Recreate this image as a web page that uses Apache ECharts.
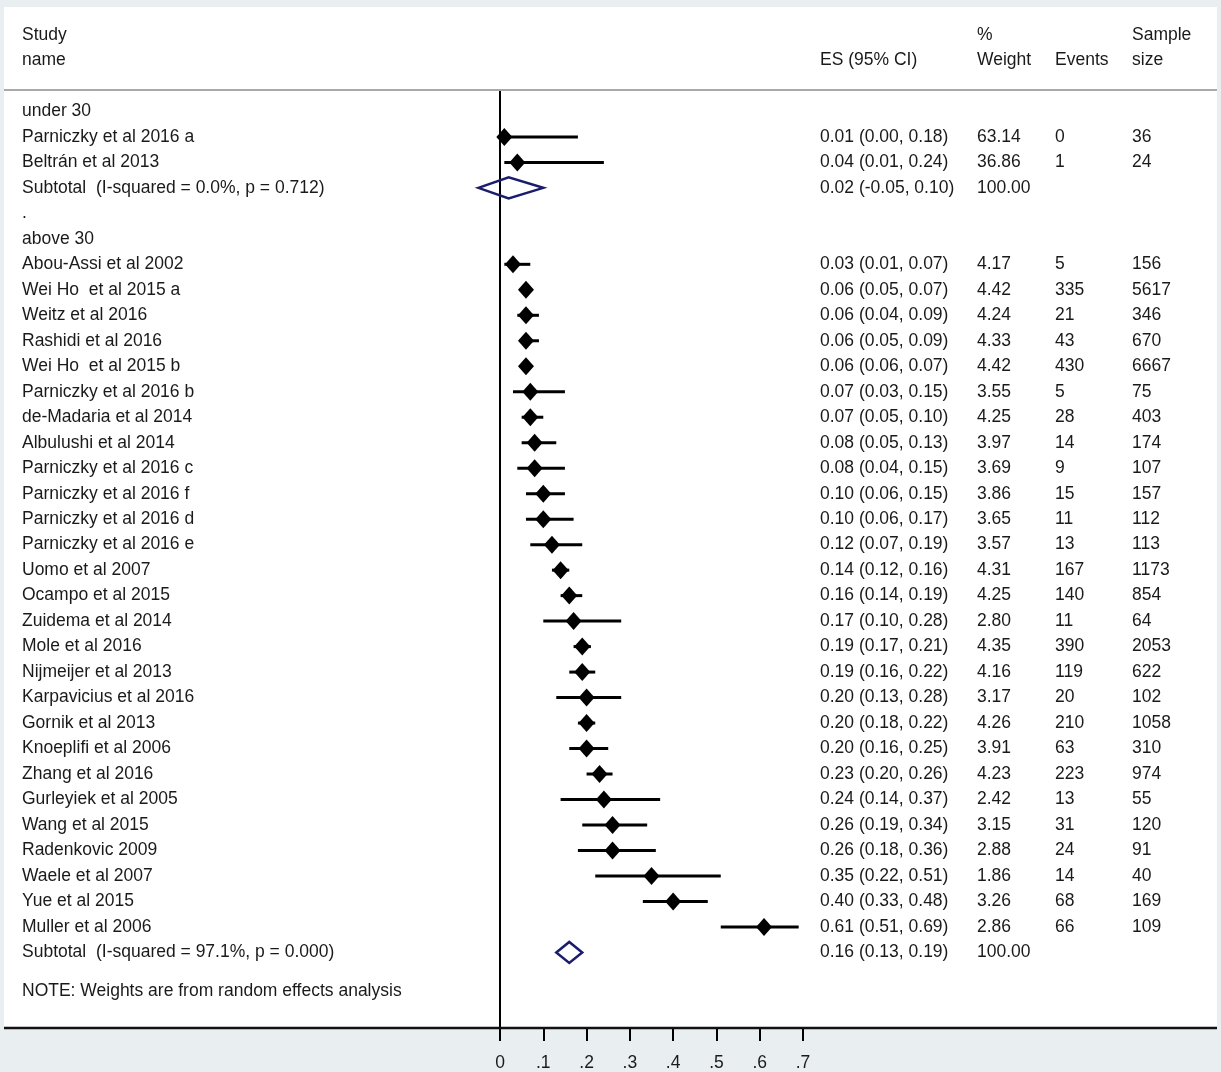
<!DOCTYPE html>
<html><head><meta charset="utf-8">
<script src="https://cdn.jsdelivr.net/npm/echarts@6/dist/echarts.min.js"></script>
<style>html,body{margin:0;padding:0;background:#e9eef0;} #c{width:1221px;height:1072px;}</style>
</head><body><div id="c"></div>
<script>
// ---- data ----
const rowLabels = [
  'under 30',
  'Parniczky et al 2016 a',
  'Beltrán et al 2013',
  'Subtotal  (I-squared = 0.0%, p = 0.712)',
  '.',
  'above 30',
  'Abou-Assi et al 2002',
  'Wei Ho  et al 2015 a',
  'Weitz et al 2016',
  'Rashidi et al 2016',
  'Wei Ho  et al 2015 b',
  'Parniczky et al 2016 b',
  'de-Madaria et al 2014',
  'Albulushi et al 2014',
  'Parniczky et al 2016 c',
  'Parniczky et al 2016 f',
  'Parniczky et al 2016 d',
  'Parniczky et al 2016 e',
  'Uomo et al 2007',
  'Ocampo et al 2015',
  'Zuidema et al 2014',
  'Mole et al 2016',
  'Nijmeijer et al 2013',
  'Karpavicius et al 2016',
  'Gornik et al 2013',
  'Knoeplifi et al 2006',
  'Zhang et al 2016',
  'Gurleyiek et al 2005',
  'Wang et al 2015',
  'Radenkovic 2009',
  'Waele et al 2007',
  'Yue et al 2015',
  'Muller et al 2006',
  'Subtotal  (I-squared = 97.1%, p = 0.000)'
];
const rowKinds = ['group','study','study','subtotal','blank','group',
  'study','study','study','study','study','study','study','study','study','study','study','study',
  'study','study','study','study','study','study','study','study','study','study','study','study',
  'study','study','study','subtotal'];
const esValues = [null,0.01,0.04,0.02,null,null,
  0.03,0.06,0.06,0.06,0.06,0.07,0.07,0.08,0.08,0.10,0.10,0.12,
  0.14,0.16,0.17,0.19,0.19,0.20,0.20,0.20,0.23,0.24,0.26,0.26,
  0.35,0.40,0.61,0.16];
const ciLow = [null,0.00,0.01,-0.05,null,null,
  0.01,0.05,0.04,0.05,0.06,0.03,0.05,0.05,0.04,0.06,0.06,0.07,
  0.12,0.14,0.10,0.17,0.16,0.13,0.18,0.16,0.20,0.14,0.19,0.18,
  0.22,0.33,0.51,0.13];
const ciHigh = [null,0.18,0.24,0.10,null,null,
  0.07,0.07,0.09,0.09,0.07,0.15,0.10,0.13,0.15,0.15,0.17,0.19,
  0.16,0.19,0.28,0.21,0.22,0.28,0.22,0.25,0.26,0.37,0.34,0.36,
  0.51,0.48,0.69,0.19];
const weights = [null,63.14,36.86,100.00,null,null,
  4.17,4.42,4.24,4.33,4.42,3.55,4.25,3.97,3.69,3.86,3.65,3.57,
  4.31,4.25,2.80,4.35,4.16,3.17,4.26,3.91,4.23,2.42,3.15,2.88,
  1.86,3.26,2.86,100.00];
const events = [null,0,1,null,null,null,
  5,335,21,43,430,5,28,14,9,15,11,13,
  167,140,11,390,119,20,210,63,223,13,31,24,
  14,68,66,null];
const sampleSizes = [null,36,24,null,null,null,
  156,5617,346,670,6667,75,403,174,107,157,112,113,
  1173,854,64,2053,622,102,1058,310,974,55,120,91,
  40,169,109,null];
const noteText = 'NOTE: Weights are from random effects analysis';
const xTickLabels = ['0','.1','.2','.3','.4','.5','.6','.7'];

// ---- build ----
const FONT = '"Liberation Sans", Arial, sans-serif';
const FS = 17.5;
const TXT = '#1a1a1a';
const NAVY = '#1c1c6e';

const studyData = [], subData = [], tableData = [];
rowKinds.forEach((k, i) => {
  if (k === 'study') studyData.push([esValues[i], i, ciLow[i], ciHigh[i]]);
  if (k === 'subtotal') subData.push([esValues[i], i, ciLow[i], ciHigh[i]]);
  tableData.push([0, i]);
});
const NOTE_ROW = 34.53;
tableData.push([0, NOTE_ROW]);

function rowTexts(i) {
  if (i >= rowLabels.length) return [noteText, '', '', '', ''];
  const k = rowKinds[i];
  let es = '', w = '', ev = '', n = '';
  if (k === 'study' || k === 'subtotal') {
    es = esValues[i].toFixed(2) + ' (' + ciLow[i].toFixed(2) + ', ' + ciHigh[i].toFixed(2) + ')';
    w = weights[i].toFixed(2);
  }
  if (k === 'study') { ev = String(events[i]); n = String(sampleSizes[i]); }
  return [rowLabels[i], es, w, ev, n];
}
const colX = [22, 820, 977, 1055, 1132];

const chart = echarts.init(document.getElementById('c'), null, {renderer: 'canvas'});
function txt(x, y, s) {
  return {type: 'text', x: x, y: y, z: 5,
    style: {text: s, font: FS + 'px ' + FONT, fill: TXT, textVerticalAlign: 'middle', verticalAlign: 'middle'}};
}
chart.setOption({
  animation: false,
  backgroundColor: '#e9eef0',
  grid: {left: 500, right: 418, top: 90, bottom: 44},
  xAxis: {
    type: 'value', min: 0, max: 0.7, interval: 0.1,
    axisLine: {show: false, onZero: false},
    axisTick: {show: true, length: 13, lineStyle: {color: '#000', width: 2}},
    axisLabel: {margin: 26, color: TXT, fontSize: FS, fontFamily: FONT,
      formatter: v => xTickLabels[Math.round(v * 10)]},
    splitLine: {show: false}
  },
  yAxis: {
    type: 'value', inverse: true, min: -0.84, max: 35.966,
    axisLine: {show: true, onZero: false, lineStyle: {color: '#000', width: 2}},
    axisTick: {show: false}, axisLabel: {show: false}, splitLine: {show: false}
  },
  graphic: [
    {type: 'rect', z: -10, silent: true, shape: {x: 4, y: 7, width: 1213, height: 1021}, style: {fill: '#ffffff'}},
    {type: 'line', z: 10, silent: true, shape: {x1: 4, y1: 90, x2: 1217, y2: 90}, style: {stroke: '#a9a9a9', lineWidth: 2}},
    {type: 'line', z: 10, silent: true, shape: {x1: 4, y1: 1028, x2: 1217, y2: 1028}, style: {stroke: '#111', lineWidth: 2.5}},
    txt(22, 35, 'Study'), txt(22, 60, 'name'),
    txt(820, 60, 'ES (95% CI)'),
    txt(977, 35, '%'), txt(977, 60, 'Weight'),
    txt(1055, 60, 'Events'),
    txt(1132, 35, 'Sample'), txt(1132, 60, 'size')
  ],
  series: [
    {
      type: 'custom', clip: false, z: 3,
      data: studyData,
      encode: {x: 0, y: 1},
      renderItem: (params, api) => {
        const row = api.value(1);
        const a = api.coord([api.value(2), row]);
        const b = api.coord([api.value(3), row]);
        return {type: 'line', shape: {x1: a[0], y1: a[1], x2: b[0], y2: b[1]},
          style: {stroke: '#000', lineWidth: 3}};
      }
    },
    {
      type: 'scatter', z: 4, data: studyData.map(d => [d[0], d[1]]),
      symbol: 'diamond', symbolSize: [16, 18],
      itemStyle: {color: '#000', opacity: 1}
    },
    {
      type: 'custom', clip: false, z: 4,
      data: subData,
      encode: {x: 0, y: 1},
      renderItem: (params, api) => {
        const row = api.value(1);
        const c = api.coord([api.value(0), row]);
        const l = api.coord([api.value(2), row]);
        const r = api.coord([api.value(3), row]);
        const h = 10.5;
        return {type: 'polygon',
          shape: {points: [[l[0], c[1]], [c[0], c[1] - h], [r[0], c[1]], [c[0], c[1] + h]]},
          style: {fill: 'none', stroke: NAVY, lineWidth: 2.5}};
      }
    },
    {
      type: 'custom', clip: false, z: 5,
      data: tableData,
      encode: {x: 0, y: 1},
      renderItem: (params, api) => {
        const row = api.value(1);
        const y = api.coord([0, row])[1];
        const t = rowTexts(params.dataIndex);
        return {type: 'group', children: t.map((s, j) => ({
          type: 'text', x: colX[j], y: y,
          style: {text: s, font: FS + 'px ' + FONT, fill: TXT, verticalAlign: 'middle', textVerticalAlign: 'middle'}
        }))};
      }
    }
  ]
});
</script></body></html>
